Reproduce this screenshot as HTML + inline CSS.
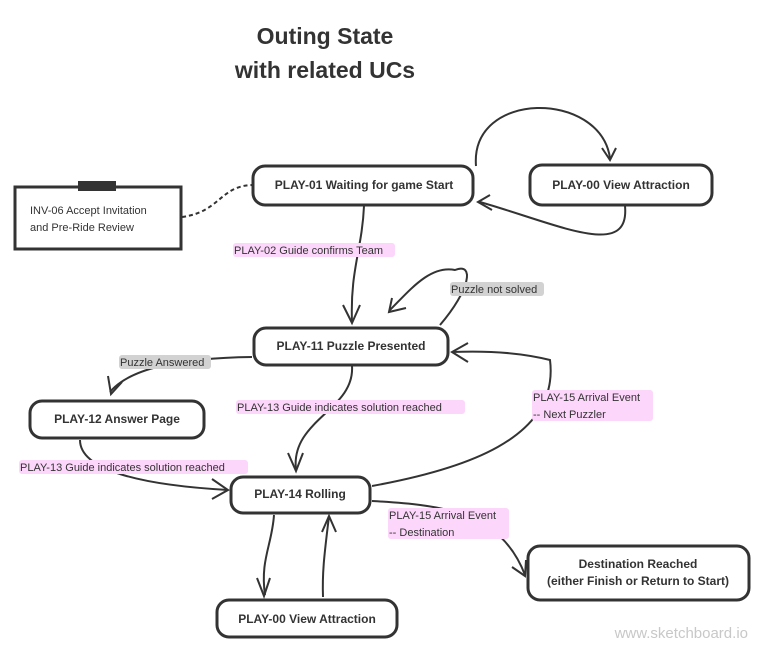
<!DOCTYPE html>
<html><head><meta charset="utf-8"><style>
html,body{margin:0;padding:0;background:#fff;}
svg{display:block;font-family:"Liberation Sans",sans-serif;}
.n{fill:#fff;stroke:#333;stroke-width:3;}
.e{fill:none;stroke:#333;stroke-width:2;}
.b{font-weight:bold;font-size:12px;fill:#333;}
.l{font-size:11px;fill:#333;}
.pk{fill:#fdd6fb;}
.gr{fill:#d2d2d2;}
</style></head><body>
<svg width="764" height="653" viewBox="0 0 764 653">
<text x="325" y="44" text-anchor="middle" font-size="23" font-weight="bold" fill="#333">Outing State</text>
<text x="325" y="78" text-anchor="middle" font-size="23" font-weight="bold" fill="#333">with related UCs</text>

<!-- edges -->
<path class="e" d="M476 166 C470 90 600 90 610 158"/>
<path class="e" d="M602 148 L610 160 L616 148"/>
<path class="e" d="M625 206 C630 260 560 225 480 202"/>
<path class="e" d="M490 195 L478 202 L492 210"/>
<path class="e" stroke-dasharray="4,3" d="M182 217 C220 212 220 186 252 185"/>
<path class="e" d="M364 206 C362 250 350 270 352 322"/>
<path class="e" d="M343 305 L352 323 L360 305"/>
<path class="e" d="M440 325 C470 290 475 262 455 270 C430 265 410 290 390 310"/>
<path class="e" d="M392 298 L389 312 L406 308"/>
<path class="e" d="M252 357 C180 358 130 368 110 392"/>
<path class="e" d="M108 376 L111 394 L122 382"/>
<path class="e" d="M352 366 C355 410 290 420 296 470"/>
<path class="e" d="M288 453 L296 471 L303 453"/>
<path class="e" d="M372 486 C460 470 560 440 550 360 C530 355 500 350 452 352"/>
<path class="e" d="M468 343 L452 352 L468 362"/>
<path class="e" d="M80 440 C80 470 140 485 228 490"/>
<path class="e" d="M212 479 L228 490 L212 499"/>
<path class="e" d="M372 501 C440 505 500 510 525 575"/>
<path class="e" d="M512 567 L525 576 L526 560"/>
<path class="e" d="M274 515 C272 545 260 560 265 595"/>
<path class="e" d="M257 578 L264 596 L270 578"/>
<path class="e" d="M323 597 C322 570 325 550 329 516"/>
<path class="e" d="M322 532 L329 516 L336 532"/>

<!-- nodes -->
<rect class="n" x="253" y="166" width="220" height="39" rx="12"/>
<text class="b" x="364" y="189" text-anchor="middle">PLAY-01 Waiting for game Start</text>
<rect class="n" x="530" y="165" width="182" height="40" rx="12"/>
<text class="b" x="621" y="189" text-anchor="middle">PLAY-00 View Attraction</text>
<rect class="n" x="15" y="187" width="166" height="62"/>
<rect x="78" y="181" width="38" height="10" fill="#333"/>
<text class="l" x="30" y="214">INV-06 Accept Invitation</text>
<text class="l" x="30" y="231">and Pre-Ride Review</text>
<rect class="n" x="254" y="328" width="194" height="37" rx="12"/>
<text class="b" x="351" y="350" text-anchor="middle">PLAY-11 Puzzle Presented</text>
<rect class="n" x="30" y="401" width="174" height="37" rx="12"/>
<text class="b" x="117" y="423" text-anchor="middle">PLAY-12 Answer Page</text>
<rect class="n" x="231" y="477" width="139" height="36" rx="12"/>
<text class="b" x="300" y="498" text-anchor="middle">PLAY-14 Rolling</text>
<rect class="n" x="217" y="600" width="180" height="37" rx="12"/>
<text class="b" x="307" y="623" text-anchor="middle">PLAY-00 View Attraction</text>
<rect class="n" x="528" y="546" width="221" height="54" rx="12"/>
<text class="b" x="638" y="568" text-anchor="middle">Destination Reached</text>
<text class="b" x="638" y="585" text-anchor="middle">(either Finish or Return to Start)</text>

<!-- labels -->
<rect class="pk" x="233" y="243" width="162" height="14" rx="3"/>
<text class="l" x="234" y="254">PLAY-02 Guide confirms Team</text>
<rect class="gr" x="450" y="282" width="94" height="14" rx="3"/>
<text class="l" x="451" y="293">Puzzle not solved</text>
<rect class="gr" x="119" y="355" width="92" height="14" rx="3"/>
<text class="l" x="120" y="366">Puzzle Answered</text>
<rect class="pk" x="236" y="400" width="229" height="14" rx="3"/>
<text class="l" x="237" y="411">PLAY-13 Guide indicates solution reached</text>
<rect class="pk" x="532" y="390" width="121" height="31" rx="3"/>
<text class="l" x="533" y="401">PLAY-15 Arrival Event</text>
<text class="l" x="533" y="418">-- Next Puzzler</text>
<rect class="pk" x="19" y="460" width="229" height="14" rx="3"/>
<text class="l" x="20" y="471">PLAY-13 Guide indicates solution reached</text>
<rect class="pk" x="388" y="508" width="121" height="31" rx="3"/>
<text class="l" x="389" y="519">PLAY-15 Arrival Event</text>
<text class="l" x="389" y="536">-- Destination</text>

<text x="748" y="638" text-anchor="end" font-size="15" fill="#c8c8c8">www.sketchboard.io</text>
</svg>
</body></html>
